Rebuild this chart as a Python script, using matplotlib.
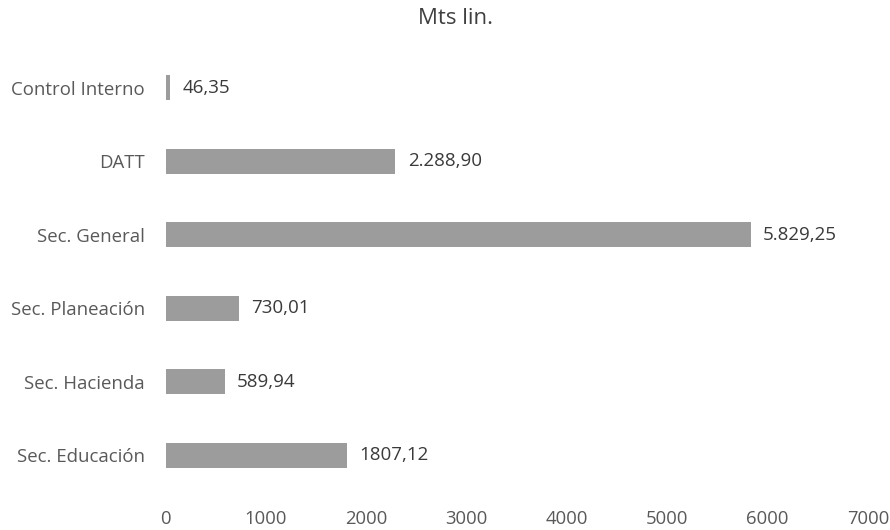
import matplotlib
matplotlib.use("Agg")
import matplotlib.pyplot as plt

categories = ["Control Interno", "DATT", "Sec. General", "Sec. Planeación",
              "Sec. Hacienda", "Sec. Educación"]
values = [46.35, 2288.90, 5829.25, 730.01, 589.94, 1807.12]
value_labels = ["46,35", "2.288,90", "5.829,25", "730,01", "589,94", "1807,12"]
xticks = [0, 1000, 2000, 3000, 4000, 5000, 6000, 7000]
title = "Mts lin."

plt.rcParams['font.family'] = ['Open Sans', 'DejaVu Sans']

fig = plt.figure(figsize=(8.9, 5.3), dpi=100)
ax = fig.add_axes([165.5/890, 38/530, (868-165.5)/890, 441/530])

n = len(categories)
ypos = list(range(n - 1, -1, -1))
bars = ax.barh(ypos, values, height=0.34, color="#9c9c9c", edgecolor="none")
ax.bar_label(bars, labels=value_labels, padding=9, fontsize=13.5, color="#3a3a3a")

ax.set_yticks(ypos)
ax.set_yticklabels(categories, fontsize=13.4, color="#595959")
ax.set_xticks(xticks)
ax.set_xticklabels([str(t) for t in xticks], fontsize=13.3, color="#595959")
ax.set_xlim(0, 7000)
ax.set_ylim(-0.5, n - 0.5)
ax.tick_params(axis="both", length=0)
ax.tick_params(axis="y", pad=15)
ax.tick_params(axis="x", pad=13)
for s in ax.spines.values():
    s.set_visible(False)

fig.text(455/890, 1 - 18/530, title, ha="center", va="center", fontsize=16, color="#404040")

fig.savefig("out.png", dpi=100)
